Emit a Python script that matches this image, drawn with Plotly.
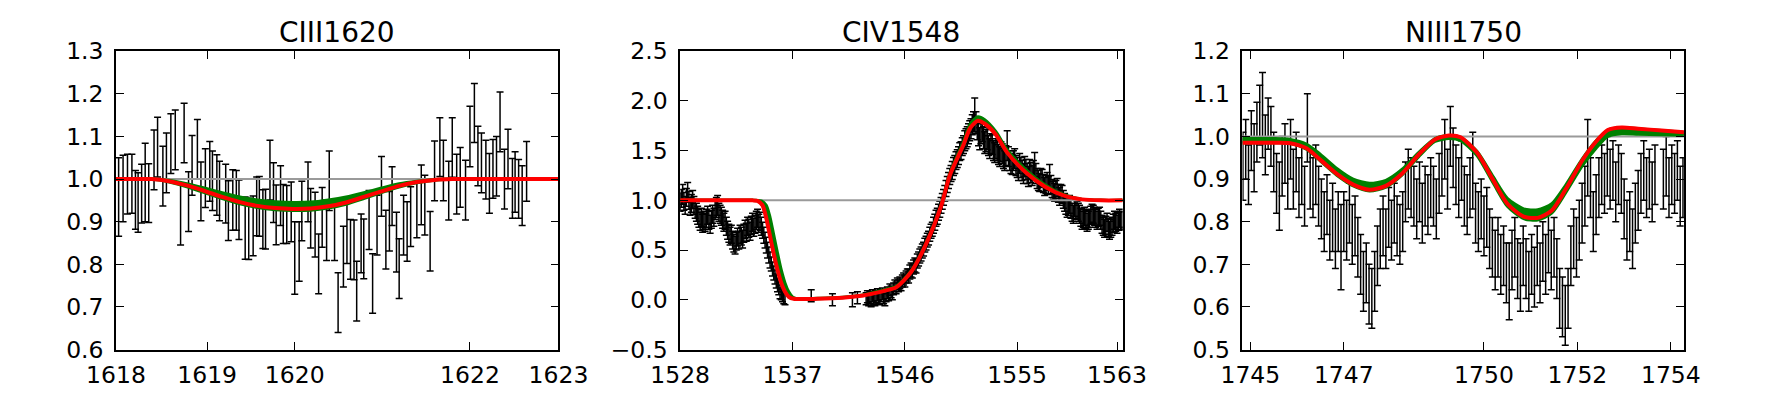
import plotly.graph_objects as go

FONT = "DejaVu Sans"

# ---------------- CIII1620 ----------------
c3_wave = [1618.03, 1618.08, 1618.13, 1618.18, 1618.22, 1618.25, 1618.29, 1618.33, 1618.37, 1618.43,
           1618.47, 1618.53, 1618.57, 1618.62, 1618.67, 1618.73, 1618.77, 1618.82, 1618.86, 1618.92,
           1618.96, 1619.01, 1619.06, 1619.09, 1619.14, 1619.17, 1619.24, 1619.27, 1619.32, 1619.36,
           1619.39, 1619.46, 1619.50, 1619.55, 1619.59, 1619.62, 1619.66, 1619.69, 1619.74, 1619.78,
           1619.81, 1619.86, 1619.89, 1619.93, 1619.98, 1620.02, 1620.07, 1620.10, 1620.17, 1620.20,
           1620.25, 1620.29, 1620.33, 1620.38, 1620.41, 1620.47, 1620.51, 1620.57, 1620.61, 1620.65,
           1620.69, 1620.72, 1620.77, 1620.80, 1620.86, 1620.90, 1620.95, 1621.00, 1621.05, 1621.09,
           1621.12, 1621.17, 1621.20, 1621.25, 1621.29, 1621.33, 1621.40, 1621.45, 1621.49, 1621.55,
           1621.60, 1621.66, 1621.70, 1621.76, 1621.80, 1621.85, 1621.89, 1621.95, 1622.00, 1622.05,
           1622.09, 1622.13, 1622.18, 1622.22, 1622.26, 1622.30, 1622.34, 1622.39, 1622.43, 1622.48,
           1622.51, 1622.55, 1622.59, 1622.64]
c3_flux = [0.958, 0.978, 0.988, 0.989, 0.951, 0.945, 0.966, 0.992, 0.967, 1.045,
           1.075, 1.007, 1.038, 1.083, 1.092, 0.917, 1.108, 0.947, 1.032, 1.070,
           0.971, 1.002, 1.018, 0.996, 0.986, 0.972, 0.966, 0.926, 0.951, 0.950,
           0.928, 0.885, 0.883, 0.890, 0.936, 0.936, 0.906, 0.906, 1.021, 0.968,
           0.916, 0.961, 0.918, 0.917, 0.923, 0.815, 0.830, 0.925, 0.970, 0.908,
           0.893, 0.801, 0.910, 0.880, 0.996, 0.878, 0.710, 0.818, 0.873, 0.835,
           0.834, 0.737, 0.849, 0.836, 0.904, 0.755, 0.892, 0.983, 0.858, 0.901,
           0.960, 0.852, 0.790, 0.892, 0.877, 0.912, 0.931, 0.963, 0.939, 0.854,
           1.019, 1.075, 1.020, 0.973, 1.074, 0.988, 1.004, 0.974, 1.100, 1.155,
           1.054, 1.038, 1.022, 0.990, 1.024, 1.030, 1.134, 1.000, 1.047, 0.978,
           0.993, 0.977, 0.961, 1.018]
c3_err = [0.092, 0.078, 0.070, 0.069, 0.069, 0.070, 0.069, 0.092, 0.069, 0.070,
          0.070, 0.070, 0.070, 0.070, 0.070, 0.072, 0.070, 0.070, 0.070, 0.070,
          0.069, 0.069, 0.070, 0.070, 0.071, 0.070, 0.069, 0.070, 0.071, 0.070,
          0.070, 0.073, 0.072, 0.070, 0.069, 0.070, 0.069, 0.070, 0.070, 0.070,
          0.070, 0.070, 0.069, 0.068, 0.070, 0.085, 0.070, 0.070, 0.070, 0.070,
          0.076, 0.070, 0.070, 0.071, 0.070, 0.069, 0.070, 0.071, 0.071, 0.070,
          0.070, 0.070, 0.069, 0.070, 0.069, 0.070, 0.070, 0.070, 0.069, 0.070,
          0.069, 0.070, 0.070, 0.070, 0.070, 0.070, 0.069, 0.070, 0.070, 0.070,
          0.070, 0.069, 0.071, 0.069, 0.070, 0.070, 0.070, 0.070, 0.071, 0.069,
          0.070, 0.070, 0.069, 0.070, 0.069, 0.070, 0.070, 0.070, 0.070, 0.070,
          0.071, 0.069, 0.070, 0.070]
c3_fit_wave = [1618.0, 1618.2, 1618.4, 1618.6, 1618.8, 1619.0, 1619.2, 1619.4, 1619.6, 1619.8,
               1620.0, 1620.2, 1620.4, 1620.6, 1620.8, 1621.0, 1621.2, 1621.4, 1621.6, 1621.8,
               1622.0, 1622.5, 1623.0]
c3_fit = [1.0, 1.0, 1.0, 0.995, 0.985, 0.972, 0.958, 0.946, 0.937, 0.932,
          0.930, 0.931, 0.936, 0.945, 0.958, 0.971, 0.984, 0.993, 0.998, 1.0,
          1.0, 1.0, 1.0]
c3_band_hi = [1.0, 1.0, 1.0, 0.997, 0.989, 0.979, 0.968, 0.958, 0.951, 0.947,
              0.945, 0.946, 0.951, 0.958, 0.968, 0.979, 0.989, 0.995, 0.999, 1.0,
              1.0, 1.0, 1.0]
c3_band_lo = [1.0, 1.0, 1.0, 0.993, 0.982, 0.968, 0.954, 0.942, 0.933, 0.928,
              0.926, 0.927, 0.932, 0.941, 0.954, 0.968, 0.981, 0.991, 0.997, 1.0,
              1.0, 1.0, 1.0]

# ---------------- CIV1548 ----------------
c4_wave = [1528.0, 1528.1, 1528.2, 1528.3, 1528.4, 1528.5, 1528.6, 1528.7, 1528.8, 1528.9,
           1529.0, 1529.1, 1529.2, 1529.3, 1529.4, 1529.5, 1529.6, 1529.7, 1529.8, 1529.9,
           1530.0, 1530.1, 1530.2, 1530.3, 1530.4, 1530.5, 1530.6, 1530.7, 1530.8, 1530.9,
           1531.0, 1531.1, 1531.2, 1531.3, 1531.4, 1531.5, 1531.6, 1531.7, 1531.8, 1531.9,
           1532.0, 1532.1, 1532.2, 1532.3, 1532.4, 1532.5, 1532.6, 1532.7, 1532.8, 1532.9,
           1533.0, 1533.1, 1533.2, 1533.3, 1533.4, 1533.5, 1533.6, 1533.7, 1533.8, 1533.9,
           1534.0, 1534.1, 1534.2, 1534.3, 1534.4, 1534.5, 1534.6, 1534.7, 1534.8, 1534.9,
           1535.0, 1535.1, 1535.2, 1535.3, 1535.4, 1535.5, 1535.6, 1535.7, 1535.8, 1535.9,
           1536.0, 1536.1, 1536.2, 1536.3, 1536.4,
           1538.5, 1540.2, 1541.8, 1542.2, 1542.9, 1543.0, 1543.1, 1543.2, 1543.3, 1543.4,
           1543.5, 1543.6, 1543.7, 1543.8, 1543.9, 1544.0, 1544.1, 1544.2, 1544.3, 1544.4,
           1544.5, 1544.6, 1544.7, 1544.8, 1544.9, 1545.0, 1545.1, 1545.2, 1545.3, 1545.4,
           1545.5, 1545.6, 1545.7, 1545.8, 1545.9, 1546.0, 1546.1, 1546.2, 1546.3, 1546.4,
           1546.5, 1546.6, 1546.7, 1546.8, 1546.9, 1547.0, 1547.1, 1547.2, 1547.3, 1547.4,
           1547.5, 1547.6, 1547.7, 1547.8, 1547.9, 1548.0, 1548.1, 1548.2, 1548.3, 1548.4,
           1548.5, 1548.6, 1548.7, 1548.8, 1548.9, 1549.0, 1549.1, 1549.2, 1549.3, 1549.4,
           1549.5, 1549.6, 1549.7, 1549.8, 1549.9, 1550.0, 1550.1, 1550.2, 1550.3, 1550.4,
           1550.5, 1550.6, 1550.7, 1550.8, 1550.9, 1551.0, 1551.1, 1551.2, 1551.3, 1551.4,
           1551.5, 1551.6, 1551.7, 1551.8, 1551.9, 1552.0, 1552.1, 1552.2, 1552.3, 1552.4,
           1552.5, 1552.6, 1552.7, 1552.8, 1552.9, 1553.0, 1553.1, 1553.2, 1553.3, 1553.4,
           1553.5, 1553.6, 1553.7, 1553.8, 1553.9, 1554.0, 1554.1, 1554.2, 1554.3, 1554.4,
           1554.5, 1554.6, 1554.7, 1554.8, 1554.9, 1555.0, 1555.1, 1555.2, 1555.3, 1555.4,
           1555.5, 1555.6, 1555.7, 1555.8, 1555.9, 1556.0, 1556.1, 1556.2, 1556.3, 1556.4,
           1556.5, 1556.6, 1556.7, 1556.8, 1556.9, 1557.0, 1557.1, 1557.2, 1557.3, 1557.4,
           1557.5, 1557.6, 1557.7, 1557.8, 1557.9, 1558.0, 1558.1, 1558.2, 1558.3, 1558.4,
           1558.5, 1558.6, 1558.7, 1558.8, 1558.9, 1559.0, 1559.1, 1559.2, 1559.3, 1559.4,
           1559.5, 1559.6, 1559.7, 1559.8, 1559.9, 1560.0, 1560.1, 1560.2, 1560.3, 1560.4,
           1560.5, 1560.6, 1560.7, 1560.8, 1560.9, 1561.0, 1561.1, 1561.2, 1561.3, 1561.4,
           1561.5, 1561.6, 1561.7, 1561.8, 1561.9, 1562.0, 1562.1, 1562.2, 1562.3, 1562.4,
           1562.5, 1562.6, 1562.7, 1562.8, 1562.9, 1563.0, 1563.1, 1563.2, 1563.3, 1563.4]
c4_flux = [0.98, 1.02, 1.06, 0.99, 0.95, 1.03, 1.08, 1.00, 0.94, 0.97,
           1.01, 0.95, 0.91, 0.88, 0.85, 0.82, 0.79, 0.83, 0.77, 0.80,
           0.78, 0.82, 0.85, 0.80, 0.76, 0.81, 0.86, 0.83, 0.90, 0.93,
           0.95, 0.88, 0.86, 0.84, 0.81, 0.78, 0.80, 0.74, 0.70, 0.67,
           0.64, 0.66, 0.60, 0.57, 0.55, 0.59, 0.63, 0.60, 0.66, 0.64,
           0.61, 0.67, 0.71, 0.68, 0.74, 0.72, 0.69, 0.75, 0.78, 0.73,
           0.76, 0.80, 0.82, 0.77, 0.79, 0.74, 0.70, 0.65, 0.60, 0.55,
           0.50, 0.45, 0.40, 0.36, 0.31, 0.27, 0.23, 0.19, 0.15, 0.12,
           0.08, 0.06, 0.04, 0.02, 0.01,
           0.04, 0.00, 0.00, 0.02, 0.01, 0.03, 0.00, 0.02, -0.01, 0.04,
           0.01, 0.00, 0.03, 0.05, 0.02, 0.01, 0.04, 0.06, 0.02, 0.00,
           0.04, 0.07, 0.05, 0.10, 0.08, 0.06, 0.11, 0.14, 0.12, 0.16,
           0.14, 0.17, 0.15, 0.19, 0.21, 0.19, 0.23, 0.25, 0.24, 0.28,
           0.30, 0.29, 0.33, 0.35, 0.34, 0.39, 0.41, 0.44, 0.46, 0.49,
           0.51, 0.55, 0.57, 0.60, 0.62, 0.66, 0.69, 0.71, 0.75, 0.78,
           0.82, 0.84, 0.88, 0.91, 0.95, 0.99, 1.03, 1.07, 1.12, 1.16,
           1.20, 1.24, 1.27, 1.30, 1.34, 1.36, 1.40, 1.42, 1.45, 1.49,
           1.50, 1.54, 1.56, 1.60, 1.62, 1.64, 1.67, 1.70, 1.72, 1.76,
           1.79, 1.86, 1.78, 1.72, 1.66, 1.62, 1.68, 1.70, 1.63, 1.58,
           1.60, 1.62, 1.55, 1.52, 1.57, 1.56, 1.50, 1.48, 1.52, 1.50,
           1.46, 1.44, 1.49, 1.47, 1.42, 1.40, 1.45, 1.55, 1.44, 1.40,
           1.37, 1.36, 1.40, 1.42, 1.35, 1.33, 1.30, 1.37, 1.33, 1.30,
           1.27, 1.34, 1.31, 1.27, 1.24, 1.31, 1.28, 1.25, 1.30, 1.36,
           1.27, 1.22, 1.20, 1.18, 1.23, 1.22, 1.17, 1.14, 1.16, 1.19,
           1.15, 1.24, 1.16, 1.12, 1.10, 1.08, 1.11, 1.13, 1.07, 1.04,
           1.07, 1.06, 1.01, 0.98, 0.95, 0.92, 0.94, 0.96, 0.91, 0.88,
           0.86, 0.93, 0.91, 0.90, 0.88, 0.86, 0.83, 0.80, 0.82, 0.84,
           0.81, 0.78, 0.80, 0.82, 0.85, 0.87, 0.86, 0.84, 0.82, 0.80,
           0.83, 0.84, 0.80, 0.76, 0.74, 0.72, 0.75, 0.78, 0.73, 0.70,
           0.72, 0.74, 0.77, 0.80, 0.78, 0.76, 0.79, 0.82, 0.80, 0.79]
c4_err = [0.09, 0.09, 0.10, 0.09, 0.09, 0.09, 0.10, 0.09, 0.09, 0.09,
          0.09, 0.09, 0.09, 0.09, 0.09, 0.09, 0.09, 0.09, 0.09, 0.09,
          0.09, 0.09, 0.09, 0.09, 0.09, 0.09, 0.09, 0.09, 0.09, 0.10,
          0.10, 0.09, 0.09, 0.09, 0.09, 0.09, 0.09, 0.09, 0.09, 0.09,
          0.09, 0.09, 0.09, 0.09, 0.09, 0.09, 0.09, 0.09, 0.09, 0.09,
          0.09, 0.09, 0.09, 0.09, 0.09, 0.09, 0.09, 0.09, 0.09, 0.09,
          0.09, 0.09, 0.09, 0.09, 0.09, 0.09, 0.08, 0.08, 0.08, 0.08,
          0.08, 0.08, 0.08, 0.07, 0.07, 0.07, 0.07, 0.07, 0.07, 0.07,
          0.07, 0.06, 0.06, 0.06, 0.06,
          0.06, 0.06, 0.07, 0.06, 0.06, 0.06, 0.06, 0.06, 0.06, 0.06,
          0.06, 0.06, 0.06, 0.06, 0.06, 0.06, 0.06, 0.06, 0.06, 0.06,
          0.06, 0.06, 0.06, 0.06, 0.06, 0.06, 0.06, 0.06, 0.06, 0.06,
          0.06, 0.06, 0.06, 0.06, 0.06, 0.06, 0.06, 0.06, 0.07, 0.07,
          0.07, 0.07, 0.07, 0.07, 0.07, 0.07, 0.07, 0.07, 0.07, 0.07,
          0.07, 0.07, 0.07, 0.07, 0.07, 0.07, 0.07, 0.07, 0.08, 0.08,
          0.08, 0.08, 0.08, 0.08, 0.08, 0.08, 0.08, 0.08, 0.08, 0.08,
          0.08, 0.08, 0.08, 0.09, 0.09, 0.09, 0.09, 0.09, 0.09, 0.09,
          0.09, 0.09, 0.09, 0.10, 0.10, 0.10, 0.10, 0.10, 0.10, 0.10,
          0.10, 0.17, 0.11, 0.11, 0.11, 0.11, 0.11, 0.11, 0.11, 0.11,
          0.11, 0.11, 0.10, 0.10, 0.10, 0.10, 0.10, 0.10, 0.10, 0.10,
          0.10, 0.10, 0.10, 0.10, 0.10, 0.10, 0.10, 0.15, 0.10, 0.10,
          0.10, 0.10, 0.10, 0.10, 0.10, 0.10, 0.10, 0.10, 0.10, 0.10,
          0.10, 0.10, 0.10, 0.10, 0.10, 0.10, 0.10, 0.10, 0.10, 0.12,
          0.10, 0.10, 0.10, 0.09, 0.09, 0.09, 0.09, 0.09, 0.09, 0.09,
          0.09, 0.12, 0.09, 0.09, 0.09, 0.09, 0.09, 0.09, 0.09, 0.09,
          0.09, 0.09, 0.09, 0.09, 0.09, 0.09, 0.09, 0.09, 0.09, 0.09,
          0.09, 0.09, 0.09, 0.09, 0.09, 0.09, 0.09, 0.09, 0.09, 0.09,
          0.09, 0.09, 0.09, 0.09, 0.09, 0.09, 0.09, 0.09, 0.09, 0.09,
          0.09, 0.09, 0.09, 0.09, 0.09, 0.09, 0.09, 0.09, 0.09, 0.09,
          0.09, 0.09, 0.09, 0.09, 0.09, 0.09, 0.09, 0.09, 0.09, 0.09]
c4_fit_wave = [1528.0, 1531.0, 1533.0, 1533.8, 1534.2, 1534.6, 1534.9, 1535.2, 1535.5, 1535.8,
               1536.1, 1536.4, 1536.7, 1537.1, 1539.0, 1541.0, 1542.5, 1543.5, 1544.5, 1545.3,
               1546.5, 1547.7, 1548.9, 1549.6, 1550.7, 1551.25, 1551.85, 1552.4, 1553.3, 1554.2,
               1555.7, 1557.2, 1558.7, 1560.2, 1561.7, 1563.45]
c4_fit = [1.0, 1.0, 1.0, 1.0, 0.995, 0.95, 0.82, 0.64, 0.46, 0.30,
          0.17, 0.08, 0.03, 0.01, 0.01, 0.02, 0.04, 0.065, 0.095, 0.125,
          0.28, 0.56, 0.94, 1.25, 1.56, 1.73, 1.80, 1.77, 1.66, 1.48,
          1.28, 1.14, 1.05, 1.01, 1.0, 1.0]
c4_band_wave = [1528.0, 1531.0, 1533.0, 1534.1, 1534.5, 1534.9, 1535.2, 1535.5, 1535.8, 1536.1,
                1536.4, 1536.7, 1537.0, 1537.4, 1539.0, 1541.0, 1542.5, 1543.5, 1544.5, 1545.3,
                1546.5, 1547.7, 1548.9, 1549.6, 1550.7, 1551.25, 1551.85, 1552.4, 1553.3, 1554.2,
                1555.7, 1557.2, 1558.7, 1560.2, 1561.7, 1563.45]
c4_band = [1.0, 1.0, 1.0, 1.0, 0.995, 0.95, 0.83, 0.65, 0.47, 0.30,
           0.17, 0.08, 0.03, 0.01, 0.015, 0.025, 0.045, 0.075, 0.105, 0.135,
           0.29, 0.57, 0.95, 1.27, 1.59, 1.77, 1.84, 1.81, 1.69, 1.51,
           1.31, 1.16, 1.06, 1.01, 1.0, 1.0]

# ---------------- NIII1750 ----------------
n3_wave = [1744.84, 1744.90, 1744.96, 1745.02, 1745.08, 1745.14, 1745.20, 1745.26, 1745.32, 1745.38,
           1745.44, 1745.50, 1745.56, 1745.62, 1745.68, 1745.74, 1745.80, 1745.86, 1745.92, 1745.98,
           1746.04, 1746.10, 1746.16, 1746.22, 1746.28, 1746.34, 1746.40, 1746.46, 1746.52, 1746.58,
           1746.64, 1746.70, 1746.76, 1746.82, 1746.88, 1746.94, 1747.00, 1747.06, 1747.12, 1747.18,
           1747.24, 1747.30, 1747.36, 1747.42, 1747.48, 1747.54, 1747.60, 1747.66, 1747.72, 1747.78,
           1747.84, 1747.90, 1747.96, 1748.02, 1748.08, 1748.14, 1748.20, 1748.26, 1748.32, 1748.38,
           1748.44, 1748.50, 1748.56, 1748.62, 1748.68, 1748.74, 1748.80, 1748.86, 1748.92, 1748.98,
           1749.04, 1749.10, 1749.16, 1749.22, 1749.28, 1749.34, 1749.40, 1749.46, 1749.52, 1749.58,
           1749.64, 1749.70, 1749.76, 1749.82, 1749.88, 1749.94, 1750.00, 1750.06, 1750.12, 1750.18,
           1750.24, 1750.30, 1750.36, 1750.42, 1750.48, 1750.54, 1750.60, 1750.66, 1750.72, 1750.78,
           1750.84, 1750.90, 1750.96, 1751.02, 1751.08, 1751.14, 1751.20, 1751.26, 1751.32, 1751.38,
           1751.44, 1751.50, 1751.56, 1751.62, 1751.68, 1751.74, 1751.80, 1751.86, 1751.92, 1751.98,
           1752.04, 1752.10, 1752.16, 1752.22, 1752.28, 1752.34, 1752.40, 1752.46, 1752.52, 1752.58,
           1752.64, 1752.70, 1752.76, 1752.82, 1752.88, 1752.94, 1753.00, 1753.06, 1753.12, 1753.18,
           1753.24, 1753.30, 1753.36, 1753.42, 1753.48, 1753.54, 1753.60, 1753.66, 1753.84, 1753.90,
           1753.96, 1754.02, 1754.08, 1754.14, 1754.20, 1754.26]
n3_flux = [0.93, 0.97, 0.91, 0.99, 0.95, 1.01, 1.05, 1.05, 0.98, 1.03,
           1.00, 0.94, 0.89, 0.86, 0.93, 0.96, 0.91, 0.97, 0.90, 0.94,
           0.88, 0.91, 0.86, 1.02, 0.90, 0.88, 0.91, 0.86, 0.83, 0.80,
           0.84, 0.78, 0.81, 0.76, 0.80, 0.74, 0.80, 0.78, 0.82, 0.77,
           0.79, 0.74, 0.70, 0.66, 0.68, 0.63, 0.62, 0.66, 0.72, 0.76,
           0.79, 0.76, 0.81, 0.78, 0.82, 0.79, 0.77, 0.80, 0.87, 0.90,
           0.88, 0.86, 0.83, 0.87, 0.82, 0.86, 0.84, 0.88, 0.86, 0.83,
           0.89, 0.93, 0.97, 0.90, 1.00, 0.95, 0.91, 0.88, 0.92, 0.86,
           0.84, 0.88, 0.92, 0.82, 0.80, 0.83, 0.79, 0.81, 0.76, 0.74,
           0.71, 0.74, 0.70, 0.72, 0.68, 0.66, 0.71, 0.74, 0.69, 0.67,
           0.72, 0.69, 0.66, 0.70, 0.67, 0.72, 0.68, 0.73, 0.70, 0.75,
           0.71, 0.74, 0.69, 0.62, 0.60, 0.58, 0.62, 0.72, 0.76, 0.74,
           0.78, 0.82, 0.86, 0.95, 0.88, 0.80, 0.84, 0.88, 0.91, 0.89,
           0.93, 0.90, 0.92, 0.87, 0.91, 0.89, 0.83, 0.78, 0.80, 0.76,
           0.82, 0.85, 0.89, 0.92, 0.88, 0.90, 0.87, 0.91, 0.90, 0.93,
           0.88, 0.91, 0.89, 0.92, 0.86, 0.88]
n3_err = [0.08, 0.07, 0.07, 0.07, 0.08, 0.07, 0.07, 0.10, 0.07, 0.06,
          0.07, 0.07, 0.07, 0.08, 0.07, 0.07, 0.08, 0.07, 0.07, 0.07,
          0.07, 0.07, 0.07, 0.08, 0.07, 0.07, 0.07, 0.07, 0.07, 0.07,
          0.07, 0.07, 0.08, 0.07, 0.07, 0.10, 0.07, 0.07, 0.07, 0.07,
          0.07, 0.07, 0.07, 0.07, 0.07, 0.07, 0.07, 0.07, 0.07, 0.07,
          0.07, 0.07, 0.07, 0.07, 0.07, 0.07, 0.07, 0.07, 0.07, 0.07,
          0.07, 0.07, 0.07, 0.07, 0.07, 0.07, 0.07, 0.07, 0.07, 0.07,
          0.07, 0.07, 0.07, 0.07, 0.07, 0.07, 0.07, 0.07, 0.07, 0.07,
          0.07, 0.07, 0.09, 0.07, 0.07, 0.07, 0.07, 0.07, 0.07, 0.07,
          0.07, 0.07, 0.07, 0.07, 0.07, 0.09, 0.07, 0.07, 0.07, 0.08,
          0.07, 0.07, 0.07, 0.07, 0.07, 0.07, 0.07, 0.07, 0.07, 0.07,
          0.07, 0.07, 0.07, 0.07, 0.07, 0.07, 0.07, 0.07, 0.07, 0.07,
          0.07, 0.07, 0.07, 0.09, 0.07, 0.07, 0.07, 0.07, 0.07, 0.07,
          0.07, 0.07, 0.07, 0.07, 0.07, 0.07, 0.07, 0.07, 0.07, 0.07,
          0.07, 0.07, 0.07, 0.07, 0.07, 0.07, 0.07, 0.07, 0.07, 0.07,
          0.07, 0.07, 0.07, 0.07, 0.07, 0.07]
n3_fit_wave = [1744.83, 1745.2, 1745.5, 1745.85, 1746.2, 1746.5, 1746.85, 1747.2, 1747.55, 1747.9,
               1748.25, 1748.6, 1748.95, 1749.25, 1749.5, 1749.85, 1750.2, 1750.5, 1750.85, 1751.15,
               1751.45, 1751.75, 1752.1, 1752.4, 1752.65, 1752.95, 1753.3, 1753.8, 1754.28]
n3_fit = [0.985, 0.985, 0.985, 0.984, 0.972, 0.945, 0.912, 0.887, 0.875, 0.884,
          0.913, 0.957, 0.993, 1.002, 0.998, 0.962, 0.897, 0.842, 0.812, 0.809,
          0.826, 0.876, 0.943, 0.988, 1.015, 1.021, 1.018, 1.014, 1.010]
n3_band_hi = [0.995, 0.995, 0.995, 0.993, 0.982, 0.958, 0.925, 0.900, 0.890, 0.897,
              0.923, 0.962, 0.995, 1.002, 0.998, 0.965, 0.905, 0.855, 0.830, 0.828,
              0.842, 0.886, 0.947, 0.990, 1.015, 1.021, 1.018, 1.014, 1.010]
n3_band_lo = [0.985, 0.985, 0.985, 0.984, 0.970, 0.942, 0.909, 0.884, 0.872, 0.881,
              0.910, 0.952, 0.988, 0.995, 0.990, 0.955, 0.890, 0.836, 0.807, 0.804,
              0.820, 0.868, 0.930, 0.972, 1.000, 1.006, 1.005, 1.004, 1.003]

continuum = 1.0

panels = [
    dict(title="CIII1620", wave=c3_wave, flux=c3_flux, err=c3_err,
         fit_wave=c3_fit_wave, fit=c3_fit,
         band_hi_wave=c3_fit_wave, band_hi=c3_band_hi, band_lo_wave=c3_fit_wave, band_lo=c3_band_lo,
         xrange=[1618, 1623], xticks=[1618, 1619.03, 1620.02, 1622.0, 1623],
         xticktext=["1618", "1619", "1620", "1622", "1623"],
         yrange=[0.6, 1.3], dtick=0.1, domain=[89 / 1769, 547 / 1769]),
    dict(title="CIV1548", wave=c4_wave, flux=c4_flux, err=c4_err,
         fit_wave=c4_fit_wave, fit=c4_fit,
         band_hi_wave=c4_band_wave, band_hi=c4_band, band_lo_wave=c4_fit_wave, band_lo=c4_fit,
         xrange=[1528, 1563.45], xticks=[1528, 1537, 1546, 1555, 1563],
         xticktext=["1528", "1537", "1546", "1555", "1563"],
         yrange=[-0.5, 2.5], dtick=0.5, domain=[673 / 1769, 1131 / 1769]),
    dict(title="NIII1750", wave=n3_wave, flux=n3_flux, err=n3_err,
         fit_wave=n3_fit_wave, fit=n3_fit,
         band_hi_wave=n3_fit_wave, band_hi=n3_band_hi, band_lo_wave=n3_fit_wave, band_lo=n3_band_lo,
         xrange=[1744.83, 1754.28], xticks=[1745, 1747, 1750, 1752, 1754],
         xticktext=["1745", "1747", "1750", "1752", "1754"],
         yrange=[0.5, 1.2], dtick=0.1, domain=[1255 / 1769, 1712 / 1769]),
]

ydomain = [1 - 361 / 397, 1 - 40 / 397]
fig = go.Figure()
annotations = []
axis_style = dict(showline=True, linecolor="black", linewidth=1.5, mirror="allticks",
                  ticks="inside", ticklen=8, tickwidth=1, tickcolor="black",
                  showgrid=False, zeroline=False,
                  tickfont=dict(family=FONT, size=23.5, color="black"))

for i, p in enumerate(panels):
    n = "" if i == 0 else str(i + 1)
    xa, ya = "x" + n, "y" + n
    common = dict(xaxis=xa, yaxis=ya, showlegend=False, hoverinfo="skip")
    fig.add_trace(go.Scatter(x=p["wave"], y=p["flux"], mode="markers",
                             marker=dict(size=2, color="rgba(0,0,0,0)"),
                             error_y=dict(type="data", array=p["err"], visible=True,
                                          color="black", thickness=1.5, width=3.5),
                             **common))
    fig.add_trace(go.Scatter(x=p["xrange"], y=[continuum, continuum], mode="lines",
                             line=dict(color="#9a9a9a", width=2), **common))
    fig.add_trace(go.Scatter(x=p["band_hi_wave"], y=p["band_hi"], mode="lines",
                             line=dict(color="#008000", width=3, shape="spline", smoothing=0.7),
                             **common))
    fig.add_trace(go.Scatter(x=p["band_lo_wave"], y=p["band_lo"], mode="lines",
                             line=dict(color="#008000", width=3, shape="spline", smoothing=0.7),
                             fill="tonexty", fillcolor="#008000", **common))
    fig.add_trace(go.Scatter(x=p["fit_wave"], y=p["fit"], mode="lines",
                             line=dict(color="#ff0000", width=4, shape="spline", smoothing=0.7),
                             **common))

    fig.layout["xaxis" + n] = dict(domain=p["domain"], range=p["xrange"], anchor=ya,
                                   tickvals=p["xticks"], ticktext=p["xticktext"],
                                   ticklabelstandoff=4, **axis_style)
    fig.layout["yaxis" + n] = dict(domain=ydomain, range=p["yrange"], anchor=xa,
                                   dtick=p["dtick"], tick0=0, tickformat=".1f",
                                   ticklabelstandoff=6, **axis_style)
    annotations.append(dict(text=p["title"], xref="paper", yref="paper",
                            x=sum(p["domain"]) / 2, y=1 - 20 / 397, xanchor="center",
                            yanchor="middle", showarrow=False,
                            font=dict(family=FONT, size=28, color="black")))

fig.update_layout(width=1769, height=397, margin=dict(l=0, r=0, t=0, b=0),
                  paper_bgcolor="white", plot_bgcolor="white", annotations=annotations)
fig.write_html("out.html", config={"displayModeBar": False},
               post_script="document.body.style.margin='0';")
